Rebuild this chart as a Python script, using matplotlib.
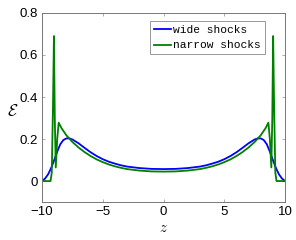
import matplotlib
matplotlib.use("Agg")
import matplotlib.pyplot as plt

# wide shocks (blue)
z_wide = [-10.0, -9.75, -9.5, -9.25, -9.0, -8.75, -8.5, -8.25, -8.0, -7.75, -7.5,
          -7.0, -6.5, -6.0, -5.5, -5.0, -4.5, -4.0, -3.5, -3.0, -2.0, -1.0, 0.0,
          1.0, 2.0, 3.0, 3.5, 4.0, 4.5, 5.0, 5.5, 6.0, 6.5, 7.0, 7.5, 7.75, 8.0,
          8.25, 8.5, 8.75, 9.0, 9.25, 9.5, 9.75, 10.0]
e_wide = [0.0, 0.012, 0.032, 0.062, 0.100, 0.140, 0.175, 0.195, 0.203, 0.203, 0.198,
          0.180, 0.158, 0.137, 0.119, 0.104, 0.092, 0.083, 0.075, 0.069, 0.062, 0.058, 0.057,
          0.058, 0.062, 0.069, 0.075, 0.083, 0.092, 0.104, 0.119, 0.137, 0.158, 0.180, 0.198,
          0.203, 0.203, 0.195, 0.175, 0.140, 0.100, 0.062, 0.032, 0.012, 0.0]

# narrow shocks (green)
z_narrow = [-10.0, -9.3, -9.2, -9.1, -9.02, -8.95, -8.87, -8.75, -8.63, -8.4, -8.0,
            -7.5, -7.0, -6.5, -6.0, -5.5, -5.0, -4.5, -4.0, -3.5, -3.0, -2.0, -1.0, 0.0,
            1.0, 2.0, 3.0, 3.5, 4.0, 4.5, 5.0, 5.5, 6.0, 6.5, 7.0, 7.5, 8.0, 8.4,
            8.63, 8.75, 8.87, 8.95, 9.02, 9.1, 9.2, 9.3, 10.0]
e_narrow = [0.0, 0.0, 0.04, 0.35, 0.69, 0.30, 0.065, 0.20, 0.278, 0.252, 0.218,
            0.186, 0.160, 0.138, 0.119, 0.103, 0.090, 0.079, 0.070, 0.063, 0.057, 0.050, 0.046, 0.045,
            0.046, 0.050, 0.057, 0.063, 0.070, 0.079, 0.090, 0.103, 0.119, 0.138, 0.160, 0.186, 0.218, 0.252,
            0.278, 0.20, 0.065, 0.30, 0.69, 0.35, 0.04, 0.0, 0.0]

x_ticks = [-10, -5, 0, 5, 10]
y_ticks = [0, 0.2, 0.4, 0.6, 0.8]

plt.rcParams["font.family"] = ["Liberation Sans", "DejaVu Sans"]
plt.rcParams["mathtext.fontset"] = "cm"

fig = plt.figure(figsize=(2.96, 2.40), dpi=100)
ax = fig.add_axes([0.142, 0.158, 0.821, 0.788])

ax.plot(z_wide, e_wide, color="#0000ff", lw=1.3, label="wide shocks")
ax.plot(z_narrow, e_narrow, color="#008000", lw=1.3, label="narrow shocks")

ax.set_xlim(-10, 10)
ax.set_ylim(-0.1, 0.8)
ax.set_xticks(x_ticks)
ax.set_yticks(y_ticks)
ax.set_xticklabels([str(t).replace("-", "\u2212") for t in x_ticks])
ax.set_yticklabels(["0", "0.2", "0.4", "0.6", "0.8"])
ax.tick_params(direction="in", length=2.5, width=0.5, top=True, right=True,
               labelsize=9.5, colors="#888888", labelcolor="black", pad=3)
for s in ax.spines.values():
    s.set_color("#777777")
    s.set_linewidth(0.7)

ax.set_xlabel(r"$z$", fontsize=10.5, labelpad=2)
ax.set_ylabel(r"$\mathcal{E}$", fontsize=12, rotation=0, labelpad=6)
ax.yaxis.set_label_coords(-0.12, 0.44)

leg = ax.legend(loc="upper left", bbox_to_anchor=(0.444, 0.958),
                prop={"family": "Liberation Mono", "size": 8.1},
                handlelength=1.5, handletextpad=0.2, borderpad=0.35,
                labelspacing=0.5, fancybox=False, framealpha=1, borderaxespad=0.0)
leg.get_frame().set_edgecolor("#888888")
leg.get_frame().set_linewidth(0.6)

fig.savefig("out.png", dpi=100)
